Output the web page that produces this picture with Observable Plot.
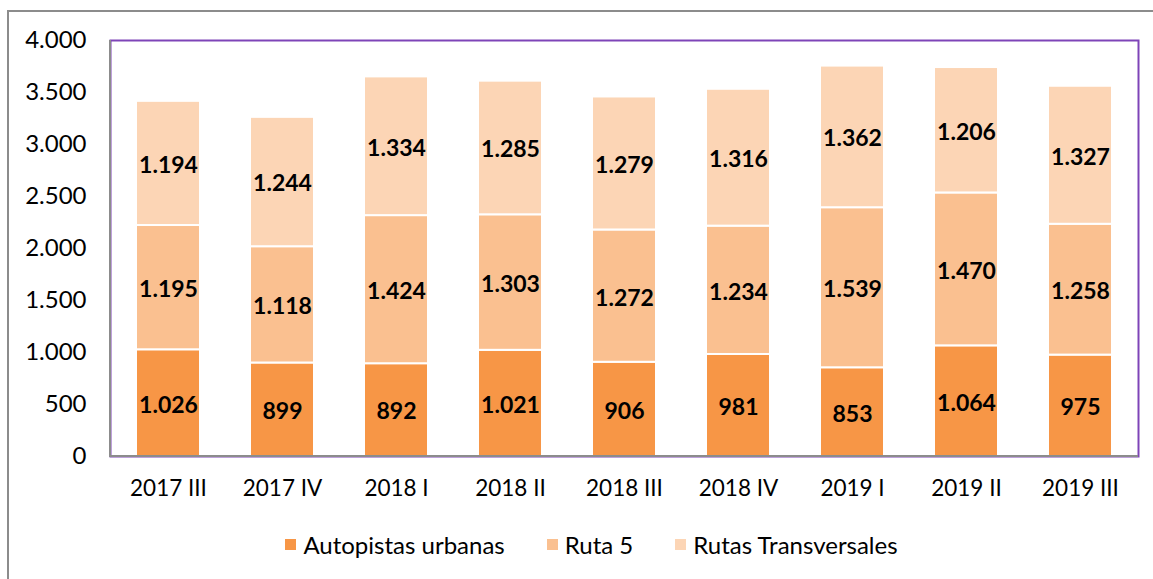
<!DOCTYPE html>
<html>
<head>
<meta charset="utf-8">
<script src="https://cdn.jsdelivr.net/npm/d3@7"></script>
<script src="https://cdn.jsdelivr.net/npm/@observablehq/plot@0.6"></script>
<style>
  html, body { margin: 0; padding: 0; background: #fff; }
  #wrap { position: relative; width: 1153px; height: 579px; overflow: hidden; font-family: Lato, "Open Sans", sans-serif; }
  #frame { position: absolute; left: 7px; top: 10px; width: 1160px; height: 600px; border: 2px solid #8c8c8c; box-sizing: border-box; }
  #chart { position: absolute; left: 0; top: 0; }
  #legend { position: absolute; top: 530px; left: 0; width: 1153px; display: flex; justify-content: center; gap: 42px; font-size: 24px; color: #000; padding-left: 30px; box-sizing: border-box; }
  #legend .item { display: flex; align-items: center; }
  #legend .sw { width: 11px; height: 11px; margin-right: 7px; display: inline-block; }
  #chart svg g[aria-label="y-axis tick label"] text { font-size: 24px; }
  #chart svg g[aria-label="x-axis tick label"] text { font-size: 22.5px; }
</style>
</head>
<body>
<div id="wrap">
  <div id="frame"></div>
  <div id="chart"></div>
  <div id="legend"></div>
</div>
<script>
const periods = ["2017 III","2017 IV","2018 I","2018 II","2018 III","2018 IV","2019 I","2019 II","2019 III"];
const seriesNames = ["Autopistas urbanas","Ruta 5","Rutas Transversales"];
const autopistas = [1026, 899, 892, 1021, 906, 981, 853, 1064, 975];
const ruta5 = [1195, 1118, 1424, 1303, 1272, 1234, 1539, 1470, 1258];
const transversales = [1194, 1244, 1334, 1285, 1279, 1316, 1362, 1206, 1327];
const yTicks = [0, 500, 1000, 1500, 2000, 2500, 3000, 3500, 4000];
const colors = ["#F79646", "#FAC090", "#FCD5B5"];

const locale = d3.formatLocale({decimal: ",", thousands: ".", grouping: [3], currency: ["$", ""]});
const fmt = locale.format(",d");

const seriesValues = [autopistas, ruta5, transversales];
const data = [];
seriesNames.forEach((s, si) => {
  periods.forEach((p, i) => data.push({period: p, series: s, value: seriesValues[si][i]}));
});

const chart = Plot.plot({
  width: 1153,
  height: 510,
  marginLeft: 110,
  marginRight: 15,
  marginTop: 40,
  marginBottom: 54,
  style: {fontFamily: "Lato, 'Open Sans', sans-serif", fontSize: "23.5px", background: "transparent"},
  x: {domain: periods, label: null, paddingInner: 0.44, paddingOuter: 0.22, tickSize: 0, tickPadding: 26},
  y: {domain: [0, 4000], ticks: yTicks, tickFormat: fmt, label: null, tickSize: 0, tickPadding: 25},
  color: {domain: seriesNames, range: colors},
  marks: [
    Plot.frame({stroke: "#7E44B8", strokeWidth: 2}),
    Plot.barY(data, Plot.stackY({x: "period", y: "value", fill: "series", z: "series", order: seriesNames, stroke: "white", strokeWidth: 2, style: "filter: drop-shadow(1px 1px 2px rgba(0,0,0,0.25))"})),
    Plot.text(data, Plot.stackY({x: "period", y: "value", z: "series", order: seriesNames, text: d => fmt(d.value), fontWeight: "bold", fontSize: 23, fill: "#000", dy: 2})),
    Plot.axisX({tickSize: 0, tickPadding: 24, fill: "#000"}),
    Plot.axisY({ticks: yTicks, tickFormat: fmt, tickSize: 0, tickPadding: 24, fill: "#000"})
  ]
});

const svg = d3.select(chart);
// gray left and bottom plot borders
svg.append("line").attr("x1", 110).attr("x2", 110).attr("y1", 40).attr("y2", 456).attr("stroke", "#8c8c8c").attr("stroke-width", 2);
svg.append("line").attr("x1", 109).attr("x2", 1138).attr("y1", 456).attr("y2", 456).attr("stroke", "#8c8c8c").attr("stroke-width", 2);

document.getElementById("chart").appendChild(chart);

const legend = document.getElementById("legend");
seriesNames.forEach((s, i) => {
  const item = document.createElement("div");
  item.className = "item";
  const sw = document.createElement("span");
  sw.className = "sw";
  sw.style.background = colors[i];
  item.appendChild(sw);
  item.appendChild(document.createTextNode(s));
  legend.appendChild(item);
});
</script>
</body>
</html>
